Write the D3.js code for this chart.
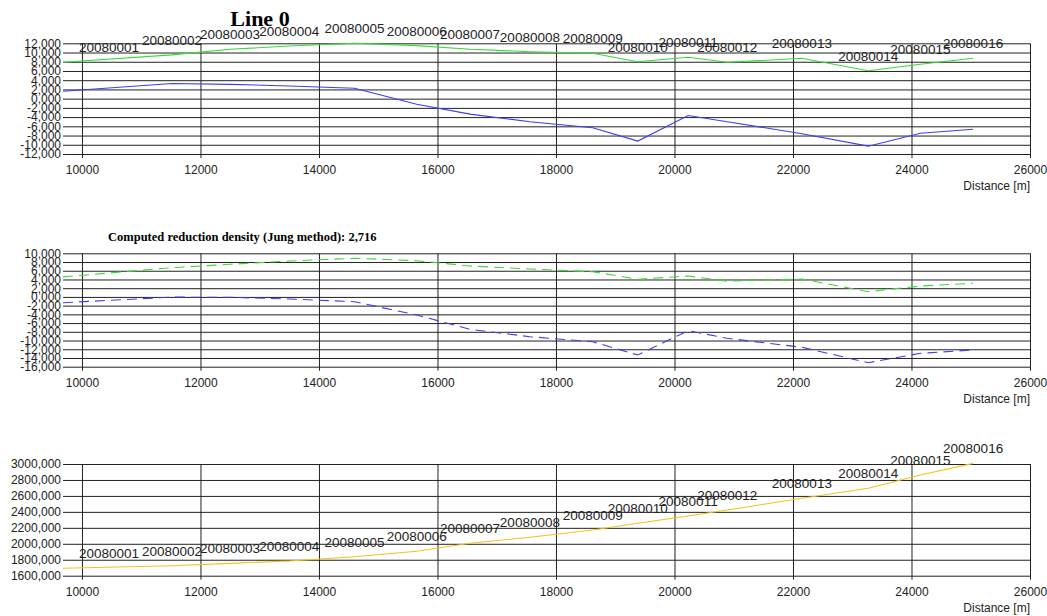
<!DOCTYPE html>
<html>
<head>
<meta charset="utf-8">
<script src="https://d3js.org/d3.v7.min.js"></script>
<style>
  body { margin: 0; background: #fff; }
  svg { display: block; }
  .tick text { font-family: "Liberation Sans", Arial, sans-serif; font-size: 12px; fill: #222; }
  .tick line { stroke: #222; stroke-width: 1; }
  .station { font-family: "Liberation Sans", Arial, sans-serif; font-size: 13.5px; fill: #222; }
  .unit { font-family: "Liberation Sans", Arial, sans-serif; font-size: 12px; fill: #222; }
</style>
</head>
<body>
<svg id="chart"></svg>
<script>
// station names and their distance along the line (m)
var stations = ["20080001","20080002","20080003","20080004","20080005","20080006","20080007","20080008",
                "20080009","20080010","20080011","20080012","20080013","20080014","20080015","20080016"];
var distances = [9680, 11520, 12500, 13500, 14600, 15650, 16550, 17560, 18620, 19380, 20230, 20890, 22150, 23270, 24150, 25040];

// panel 1 - solid lines
var topGreen = [7900, 9500, 10700, 11400, 12000, 11500, 10700, 10180, 9830, 8000, 8960, 7880, 8750, 6050, 7450, 8750];
var topBlue  = [1600, 3300, 3100, 2750, 2250, -1200, -3350, -5000, -6300, -9200, -3650, -5000, -7600, -10300, -7500, -6650];

// panel 2 - dashed lines
var midGreen = [4600, 6700, 7480, 8230, 8850, 8300, 7090, 6400, 5780, 4040, 4800, 3600, 4100, 1200, 2500, 3120];
var midBlue  = [-1330, -50, -90, -480, -1100, -4150, -7430, -9120, -10270, -13320, -7750, -9490, -11550, -15080, -12930, -12170];

// panel 3 - elevation type curve
var bottomYellow = [1693000, 1725000, 1755000, 1784000, 1838000, 1906000, 2006000, 2081000, 2173000, 2257000,
                    2348000, 2424000, 2570000, 2696000, 2862000, 3008000];

var xTicks = [10000, 12000, 14000, 16000, 18000, 20000, 22000, 24000, 26000];

var topTicks = [12000, 10000, 8000, 6000, 4000, 2000, 0, -2000, -4000, -6000, -8000, -10000, -12000];
var topTickLabels = ["12,000","10,000","8,000","6,000","4,000","2,000","0,000","-2,000","-4,000","-6,000","-8,000","-10,000","-12,000"];

var midTicks = [10000, 8000, 6000, 4000, 2000, 0, -2000, -4000, -6000, -8000, -10000, -12000, -14000, -16000];
var midTickLabels = ["10,000","8,000","6,000","4,000","2,000","0,000","-2,000","-4,000","-6,000","-8,000","-10,000","-12,000","-14,000","-16,000"];

var botTicks = [3000000, 2800000, 2600000, 2400000, 2200000, 2000000, 1800000, 1600000];
var botTickLabels = ["3000,000","2800,000","2600,000","2400,000","2200,000","2000,000","1800,000","1600,000"];

var screen = {width: 1047, height: 616};
var svg = d3.select("#chart").attr("width", screen.width).attr("height", screen.height);

var left = 63, right = 1030;
var x = d3.scaleLinear().domain([9680, 26000]).range([left, right]);

var drawPanel = function(cfg)
{
    var h = cfg.bottom - cfg.top;
    var g = svg.append("g").attr("transform", "translate(0," + cfg.top + ")");
    var y = d3.scaleLinear().domain([cfg.ticks[cfg.ticks.length - 1], cfg.ticks[0]]).range([h, 0]);

    // horizontal grid + labels
    var yAxis = g.append("g")
        .attr("transform", "translate(" + left + ",0)")
        .call(d3.axisLeft(y).tickValues(cfg.ticks)
            .tickSize(-(right - left))
            .tickPadding(2)
            .tickFormat(function(d, i){ return cfg.tickLabels[i]; }));
    yAxis.select(".domain").remove();

    // vertical grid + distance labels
    var xAxis = g.append("g")
        .attr("transform", "translate(0," + (h + 4) + ")")
        .call(d3.axisBottom(x).tickValues(xTicks).tickSize(-(h + 4)).tickFormat(d3.format("d")));
    xAxis.select(".domain").remove();
    xAxis.selectAll("text").attr("y", 0).attr("dy", "16px");

    g.append("text")
        .attr("class", "unit")
        .attr("x", right)
        .attr("y", h + 36)
        .attr("text-anchor", "end")
        .text("Distance [m]");

    cfg.series.forEach(function(s)
    {
        var line = d3.line()
            .x(function(d, i){ return x(distances[i]); })
            .y(function(d){ return y(d); });
        g.append("path")
            .datum(s.values)
            .attr("d", line)
            .attr("fill", "none")
            .attr("stroke", s.color)
            .attr("stroke-width", 1.1)
            .attr("stroke-dasharray", s.dash || null);
    });

    if (cfg.labelBy)
    {
        g.selectAll(".station")
            .data(stations)
            .enter()
            .append("text")
            .attr("class", "station")
            .attr("text-anchor", "middle")
            .attr("x", function(d, i){ return Math.max(x(distances[i]), left + 46); })
            .attr("y", function(d, i){ return y(cfg.labelBy[i]) - 10; })
            .text(function(d){ return d; });
    }
};

drawPanel({
    top: 43.3, bottom: 154,
    ticks: topTicks, tickLabels: topTickLabels,
    series: [{values: topGreen, color: "#33dd33"}, {values: topBlue, color: "#3d3df0"}],
    labelBy: topGreen
});

drawPanel({
    top: 253.3, bottom: 366.7,
    ticks: midTicks, tickLabels: midTickLabels,
    series: [{values: midGreen, color: "#33dd33", dash: "10,6"}, {values: midBlue, color: "#3d3df0", dash: "10,6"}]
});

drawPanel({
    top: 464, bottom: 575.7,
    ticks: botTicks, tickLabels: botTickLabels,
    series: [{values: bottomYellow, color: "#f2c31a"}],
    labelBy: bottomYellow
});

// titles
svg.append("text")
    .attr("x", 260)
    .attr("y", 26)
    .attr("text-anchor", "middle")
    .style("font-family", "'Liberation Serif', 'Times New Roman', serif")
    .style("font-weight", "bold")
    .style("font-size", "22px")
    .text("Line 0");

svg.append("text")
    .attr("x", 108)
    .attr("y", 241)
    .style("font-family", "'Liberation Serif', 'Times New Roman', serif")
    .style("font-weight", "bold")
    .style("font-size", "12.5px")
    .text("Computed reduction density (Jung method): 2,716");
</script>
</body>
</html>
